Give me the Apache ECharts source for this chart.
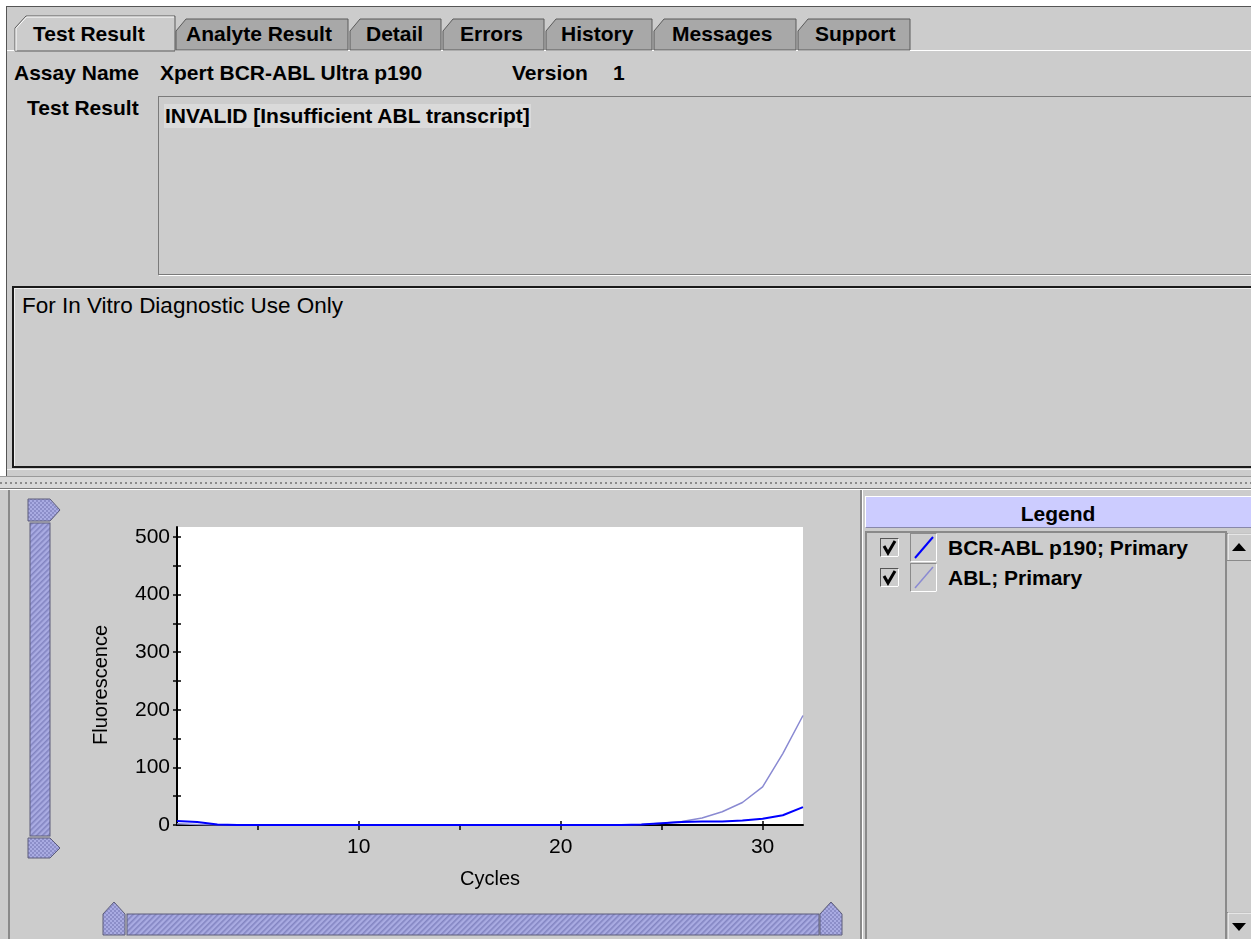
<!DOCTYPE html>
<html><head><meta charset="utf-8">
<script src="https://cdn.jsdelivr.net/npm/echarts@6/dist/echarts.min.js"></script>
<style>
html,body{margin:0;padding:0;width:1251px;height:939px;overflow:hidden;background:#fff;font-family:"Liberation Sans",Arial,sans-serif;}
.a{position:absolute;}
.t{position:absolute;white-space:nowrap;line-height:24px;font-size:21px;font-weight:bold;color:#000;}
#chart{position:absolute;left:0;top:0;width:1251px;height:939px;}
</style>
</head><body>
<script>
// ---- data ----
const cycles = [1,2,3,4,5,6,7,8,9,10,11,12,13,14,15,16,17,18,19,20,21,22,23,24,25,26,27,28,29,30,31,32];
const bcrAblP190 = [7,5,1,0,0,0,0,0,0,0,0,0,0,0,0,0,0,0,0,0,0,0,0,1,3,5,6,6,8,11,17,31];
const abl        = [2,1,0,0,0,0,0,0,0,0,0,0,0,0,0,0,0,0,0,0,0,0,0,1,3,6,12,23,39,66,124,190];
const seriesNames = ["BCR-ABL p190; Primary", "ABL; Primary"];
const yLabelValues = [0,100,200,300,400,500];
const yTickValues = [0,50,100,150,200,250,300,350,400,450,500];
const xLabelValues = [10,20,30];
const xTickValues = [5,10,15,20,25,30];
</script>

<!-- top panel -->
<div class="a" style="left:6px;top:6px;width:1245px;height:470px;background:#cccccc;border-top:1px solid #555;border-left:1px solid #555;"></div>
<div class="a" style="left:7px;top:50px;width:1244px;height:1px;background:#fff;"></div>

<!-- Test Result box -->
<div class="a" style="left:158px;top:96px;width:1100px;height:177px;border:1px solid #7a7a7a;box-shadow:1px 1px 0 #fff;background:#cccccc;"></div>
<!-- Disclaimer box -->
<div class="a" style="left:12px;top:286px;width:1245px;height:178px;border:2px solid #1a1a1a;border-right:none;box-shadow:inset 1px 1px 0 #eee;background:#cccccc;"></div>
<div class="a" style="left:7px;top:469px;width:1244px;height:1px;background:#eee;"></div>

<!-- divider -->
<div class="a" style="left:0px;top:476px;width:1251px;height:1px;background:#9a9a9a;"></div>
<div class="a" style="left:0px;top:477px;width:1251px;height:11px;background:#d8d8d8;"></div>
<div class="a" style="left:0px;top:482px;width:1251px;height:2px;background:repeating-linear-gradient(90deg,#8a8a8a 0 2px,transparent 2px 5px);"></div>
<div class="a" style="left:0px;top:488px;width:1251px;height:1px;background:#777;"></div>
<!-- bottom panel -->
<div class="a" style="left:0px;top:489px;width:1251px;height:450px;background:#cccccc;border-top:1px solid #fff;"></div>
<div class="a" style="left:8px;top:490px;width:2px;height:449px;background:#8a8a8a;"></div>

<!-- legend panel -->
<div class="a" style="left:860px;top:490px;width:2px;height:449px;background:#8a8a8a;"></div>
<div class="a" style="left:862px;top:490px;width:1px;height:449px;background:#fff;"></div>
<div class="a" style="left:865px;top:496px;width:386px;height:30px;background:#ccccff;border-top:1px solid #fff;border-left:1px solid #fff;border-bottom:1px solid #8888aa;"></div>
<div class="a" style="left:865px;top:531px;width:360px;height:408px;border-top:2px solid #8a8a8a;border-left:2px solid #8a8a8a;"></div>
<div class="a" style="left:1225px;top:531px;width:26px;height:408px;background:#cccccc;border-left:2px solid #8a8a8a;"></div>

<svg class="a" style="left:0;top:0" width="1251" height="939" xmlns="http://www.w3.org/2000/svg">
  <defs>
    <pattern id="hatch" width="4" height="4" patternUnits="userSpaceOnUse" patternTransform="rotate(45)">
      <rect width="4" height="4" fill="#a9abe2"/>
      <rect width="1.6" height="4" fill="#8385c2"/>
    </pattern>
    <pattern id="hatch2" width="4" height="4" patternUnits="userSpaceOnUse">
      <rect width="4" height="4" fill="#a9abe2"/>
      <rect x="0" y="0" width="2" height="2" fill="#8c8ec8"/>
      <rect x="2" y="2" width="2" height="2" fill="#8c8ec8"/>
    </pattern>
  </defs>
  <!-- tabs -->
  <g stroke-width="1">
    <polygon points="176,50 176,31 186,19 348,19 348,50" fill="#a8a8a8" stroke="#5a5a5a"/>
    <polygon points="350,50 350,31 360,19 441,19 441,50" fill="#a8a8a8" stroke="#5a5a5a"/>
    <polygon points="443,50 443,31 453,19 544,19 544,50" fill="#a8a8a8" stroke="#5a5a5a"/>
    <polygon points="546,50 546,31 556,19 652,19 652,50" fill="#a8a8a8" stroke="#5a5a5a"/>
    <polygon points="654,50 654,31 664,19 796,19 796,50" fill="#a8a8a8" stroke="#5a5a5a"/>
    <polygon points="798,50 798,31 808,19 910,19 910,50" fill="#a8a8a8" stroke="#5a5a5a"/>
    <polygon points="15,51 15,28 26,16 175,16 175,51" fill="#cccccc" stroke="#5a5a5a"/>
    <polyline points="16,51 16,28.5 26.5,17 174,17" fill="none" stroke="#fff"/>
  </g>
  <!-- vertical slider -->
  <rect x="30" y="523" width="20" height="313" fill="url(#hatch)" stroke="#5c5c7a"/>
  <polygon points="28,499 50,499 60,510 50,521 28,521" fill="url(#hatch2)" stroke="#5c5c7a"/>
  <polygon points="28,838 50,838 60,848 50,858 28,858" fill="url(#hatch2)" stroke="#5c5c7a"/>
  <!-- horizontal slider -->
  <rect x="127" y="914" width="692" height="21" fill="url(#hatch)" stroke="#5c5c7a"/>
  <polygon points="103,935 103,914 114,902 125,914 125,935" fill="url(#hatch2)" stroke="#5c5c7a"/>
  <polygon points="820,935 820,914 831,902 842,914 842,935" fill="url(#hatch2)" stroke="#5c5c7a"/>
  <!-- legend checkboxes -->
  <g>
    <rect x="880.5" y="538.5" width="18" height="18" fill="#cccccc" stroke="#555"/>
    <path d="M898.5 538.5 V556.5 H880.5" fill="none" stroke="#fff"/>
    <path d="M884 546 L888 553 L895 541" fill="none" stroke="#000" stroke-width="3"/>
    <rect x="880.5" y="568.5" width="18" height="18" fill="#cccccc" stroke="#555"/>
    <path d="M898.5 568.5 V586.5 H880.5" fill="none" stroke="#fff"/>
    <path d="M884 576 L888 583 L895 571" fill="none" stroke="#000" stroke-width="3"/>
  </g>
  <!-- legend line icons -->
  <g>
    <rect x="910.5" y="533.5" width="26" height="28" fill="#cccccc" stroke="#8a8a8a"/>
    <path d="M936.5 533.5 V561.5 H910.5" fill="none" stroke="#fff"/>
    <line x1="915" y1="558" x2="933" y2="537" stroke="#0000ff" stroke-width="2"/>
    <rect x="910.5" y="563.5" width="26" height="28" fill="#cccccc" stroke="#8a8a8a"/>
    <path d="M936.5 563.5 V591.5 H910.5" fill="none" stroke="#fff"/>
    <line x1="915" y1="588" x2="933" y2="567" stroke="#8a8ad2" stroke-width="1.5"/>
  </g>
  <!-- scroll buttons -->
  <rect x="1227.5" y="533.5" width="24" height="27" fill="#cccccc" stroke="#8a8a8a"/>
  <path d="M1228 560 V534 H1251" fill="none" stroke="#fff"/>
  <polygon points="1232,551 1246,551 1239,543" fill="#000"/>
  <rect x="1227.5" y="912.5" width="24" height="27" fill="#cccccc" stroke="#8a8a8a"/>
  <path d="M1228 939 V913 H1251" fill="none" stroke="#fff"/>
  <polygon points="1232,923 1246,923 1239,931" fill="#000"/>
</svg>

<!-- texts -->
<div class="t" style="left:33px;top:22px;">Test Result</div>
<div class="t" style="left:186px;top:22px;">Analyte Result</div>
<div class="t" style="left:366px;top:22px;">Detail</div>
<div class="t" style="left:460px;top:22px;">Errors</div>
<div class="t" style="left:561px;top:22px;">History</div>
<div class="t" style="left:672px;top:22px;">Messages</div>
<div class="t" style="left:815px;top:22px;">Support</div>

<div class="t" style="left:14px;top:61px;">Assay Name</div>
<div class="t" style="left:160px;top:61px;">Xpert BCR-ABL Ultra p190</div>
<div class="t" style="left:512px;top:61px;">Version</div>
<div class="t" style="left:613px;top:61px;">1</div>

<div class="t" style="left:27px;top:96px;">Test Result</div>
<div class="t" style="left:164px;top:104px;background:#dadada;padding:0 1px;">INVALID [Insufficient ABL transcript]</div>

<div class="t" style="left:22px;top:293px;font-weight:normal;font-size:22.5px;line-height:26px;">For In Vitro Diagnostic Use Only</div>

<div class="t" style="left:865px;top:502px;width:386px;text-align:center;">Legend</div>
<div class="t" style="left:948px;top:536px;">BCR-ABL p190; Primary</div>
<div class="t" style="left:948px;top:566px;">ABL; Primary</div>

<div id="chart"></div>
<script>
const chart = echarts.init(document.getElementById('chart'), null, {renderer: 'canvas'});
const FF = '"Liberation Sans", Arial, sans-serif';
const tickStyle = {color: '#000', width: 1.5};
chart.setOption({
  animation: false,
  backgroundColor: 'transparent',
  grid: {left: 177, top: 527, width: 626, height: 298, show: true, backgroundColor: '#ffffff', borderWidth: 0, containLabel: false, outerBoundsMode: 'none'},
  xAxis: [
    {
      type: 'value', min: 1, max: 32, position: 'bottom',
      axisLine: {show: true, onZero: false, lineStyle: {color: '#000', width: 2}},
      axisTick: {show: true, length: 5, customValues: xTickValues, lineStyle: tickStyle},
      axisLabel: {show: true, customValues: xLabelValues, margin: 12, fontSize: 21, color: '#000', fontFamily: FF},
      splitLine: {show: false},
      name: 'Cycles', nameLocation: 'middle', nameGap: 44,
      nameTextStyle: {fontSize: 20, color: '#000', fontFamily: FF}
    },
    {
      type: 'value', min: 1, max: 32, position: 'bottom',
      axisLine: {show: false, onZero: false},
      axisTick: {show: true, inside: true, length: 4, customValues: xLabelValues, lineStyle: tickStyle},
      axisLabel: {show: false},
      splitLine: {show: false}
    }
  ],
  yAxis: [
    {
      type: 'value', min: 0, max: 517, position: 'left',
      axisLine: {show: true, onZero: false, lineStyle: {color: '#000', width: 2}},
      axisTick: {show: true, length: 4, customValues: yTickValues, lineStyle: tickStyle},
      axisLabel: {show: true, customValues: yLabelValues, margin: 7, fontSize: 21, color: '#000', fontFamily: FF},
      splitLine: {show: false},
      name: 'Fluorescence', nameLocation: 'middle', nameGap: 66,
      nameTextStyle: {fontSize: 20, color: '#000', fontFamily: FF, padding: [0, 18, 0, 0]}
    },
    {
      type: 'value', min: 0, max: 517, position: 'left',
      axisLine: {show: false, onZero: false},
      axisTick: {show: true, inside: true, length: 4, customValues: yTickValues, lineStyle: tickStyle},
      axisLabel: {show: false},
      splitLine: {show: false}
    }
  ],
  series: [
    {
      name: seriesNames[1], type: 'line', xAxisIndex: 0, yAxisIndex: 0,
      showSymbol: false, symbol: 'none',
      lineStyle: {color: '#8a8ad2', width: 1.5},
      itemStyle: {color: '#8a8ad2'},
      data: cycles.map((c, i) => [c, abl[i]])
    },
    {
      name: seriesNames[0], type: 'line', xAxisIndex: 0, yAxisIndex: 0,
      showSymbol: false, symbol: 'none',
      lineStyle: {color: '#0000ff', width: 2},
      itemStyle: {color: '#0000ff'},
      data: cycles.map((c, i) => [c, bcrAblP190[i]])
    }
  ]
});
</script>
</body></html>
